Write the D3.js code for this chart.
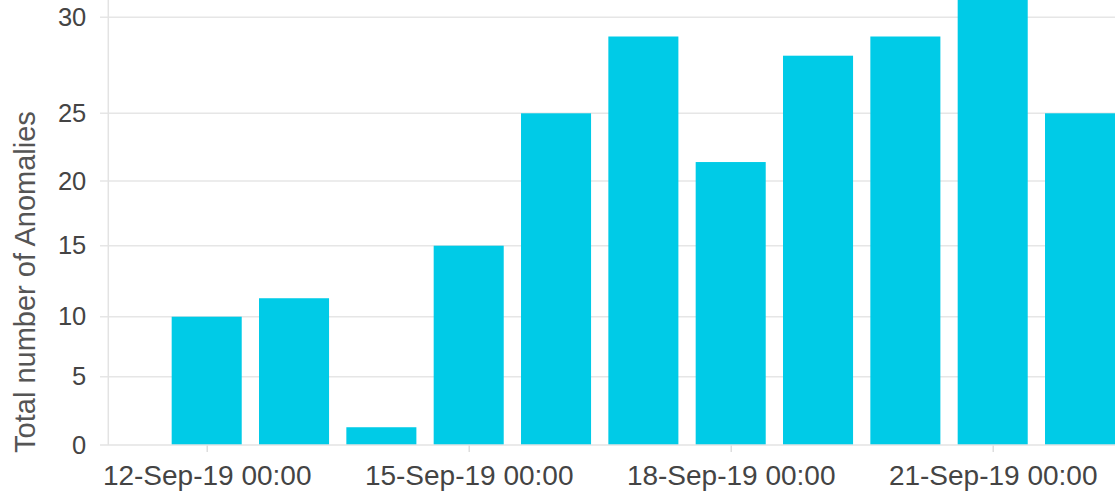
<!DOCTYPE html>
<html>
<head>
<meta charset="utf-8">
<script src="https://cdn.jsdelivr.net/npm/d3@7"></script>
<style>
html,body{margin:0;padding:0;background:#fff;overflow:hidden;}
svg{display:block;font-family:"Liberation Sans",Arial,Helvetica,sans-serif;}
</style>
</head>
<body>
<svg id="chart" width="1115" height="495"></svg>
<script>
// Data
const dates = ["2019-09-12","2019-09-13","2019-09-14","2019-09-15","2019-09-16","2019-09-17","2019-09-18","2019-09-19","2019-09-20","2019-09-21","2019-09-22"];
const anomalies = [10, 11.3, 1.3, 15, 25, 29, 21.4, 28, 29, 31, 25];
const yTicks = [0, 5, 10, 15, 20, 25, 30];
const xTickDates = ["2019-09-12","2019-09-15","2019-09-18","2019-09-21"];
const yTitle = "Total number of Anomalies";

const parse = d3.utcParse("%Y-%m-%d");
const fmt = d3.utcFormat("%d-%b-%y %H:%M");

const svg = d3.select("#chart");
const W = 1115, H = 495;

// x: time scale
const x = d3.scaleUtc()
  .domain([parse("2019-09-12"), parse("2019-09-21")])
  .range([206.7, 992.7]);

// y: the reference's axis spacing is uneven; use a polylinear scale through the gridlines
const y = d3.scaleLinear()
  .domain(yTicks)
  .range([445, 376.7, 316.7, 245.7, 181, 113.3, 17.3]);

const axisX = 108.3;
const dayW = x(parse("2019-09-13")) - x(parse("2019-09-12"));
const barW = dayW * 0.802;

// gridlines
svg.append("g").selectAll("line").data(yTicks.slice(1)).join("line")
  .attr("x1", 100).attr("x2", W)
  .attr("y1", d => y(d)).attr("y2", d => y(d))
  .attr("stroke", "#e6e6e6").attr("stroke-width", 1.5);

// bars
svg.append("g").selectAll("rect").data(dates.map((d, i) => ({date: parse(d), v: anomalies[i]}))).join("rect")
  .attr("x", d => x(d.date) - barW / 2)
  .attr("width", barW)
  .attr("y", d => y(d.v))
  .attr("height", d => y(0) - y(d.v))
  .attr("fill", "#00cbe7");

// y axis line
svg.append("line")
  .attr("x1", axisX).attr("x2", axisX).attr("y1", 0).attr("y2", y(0))
  .attr("stroke", "#e3e3e3").attr("stroke-width", 1.5);

// x axis
const xAxis = d3.axisBottom(x)
  .tickValues(xTickDates.map(parse))
  .tickFormat(fmt)
  .tickSize(7)
  .tickPadding(13);
const gx = svg.append("g").attr("transform", `translate(0,${y(0)})`).call(xAxis);
gx.select(".domain").remove();
gx.append("line").attr("x1", 100).attr("x2", W).attr("y1", 0).attr("y2", 0)
  .attr("stroke", "#e3e3e3").attr("stroke-width", 1.5);
gx.selectAll(".tick line").attr("stroke", "#d6d6d6").attr("stroke-width", 1.2);
gx.selectAll(".tick text").attr("fill", "#444").attr("font-size", 28).attr("dy", "0.71em");

// y axis labels
const yAxis = d3.axisLeft(y).tickValues(yTicks).tickSize(0).tickPadding(22);
const gy = svg.append("g").attr("transform", `translate(${axisX},0)`).call(yAxis);
gy.select(".domain").remove();
gy.selectAll(".tick text").attr("fill", "#444").attr("font-size", 25.5);

// y title
svg.append("text")
  .attr("transform", `translate(35,${282}) rotate(-90)`)
  .attr("text-anchor", "middle")
  .attr("fill", "#555")
  .attr("font-size", 29)
  .text(yTitle);
</script>
</body>
</html>
